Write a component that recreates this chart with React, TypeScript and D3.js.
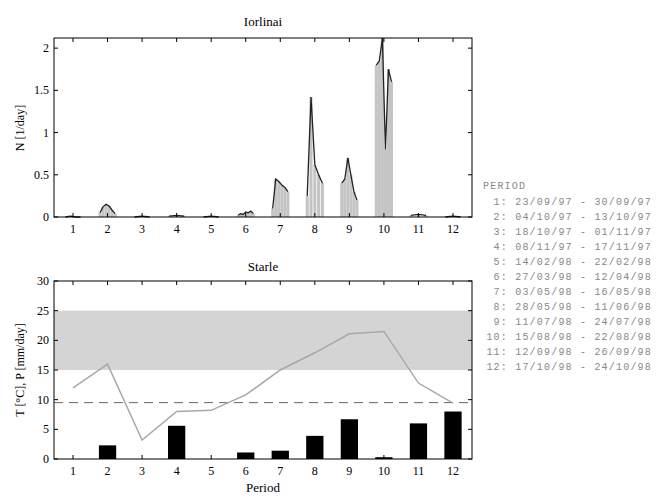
import * as d3 from "d3"

// N [1/day] samples inside each period
const nPeriod1 = [0, 0.01, 0, 0]
const nPeriod2 = [0.05, 0.12, 0.15, 0.13, 0.08, 0.04]
const nPeriod3 = [0, 0.01, 0]
const nPeriod4 = [0.01, 0.02, 0.01]
const nPeriod5 = [0, 0.01, 0]
const nPeriod6 = [0.02, 0.04, 0.03, 0.06, 0.05, 0.07, 0.04]
const nPeriod7 = [0.1, 0.45, 0.42, 0.38, 0.35, 0.3]
const nPeriod8 = [0.25, 1.42, 0.62, 0.5, 0.4]
const nPeriod9 = [0.4, 0.45, 0.7, 0.5, 0.3, 0.2]
const nPeriod10 = [1.8, 1.85, 2.12, 0.8, 1.75, 1.6]
const nPeriod11 = [0.02, 0.03, 0.02]
const nPeriod12 = [0, 0.01, 0]
const nSeries = [nPeriod1, nPeriod2, nPeriod3, nPeriod4, nPeriod5, nPeriod6,
  nPeriod7, nPeriod8, nPeriod9, nPeriod10, nPeriod11, nPeriod12]

const periods = [1, 2, 3, 4, 5, 6, 7, 8, 9, 10, 11, 12]
const temperature = [12.0, 16.0, 3.2, 8.0, 8.2, 10.8, 15.0, 17.9, 21.1, 21.5, 12.8, 9.4]
const precipitation = [0, 2.3, 0, 5.6, 0, 1.1, 1.4, 3.9, 6.7, 0.3, 6.0, 8.0]
const bandLow = 15
const bandHigh = 25
const threshold = 9.5

const topTicks = [0, 0.5, 1, 1.5, 2]
const bottomTicks = [0, 5, 10, 15, 20, 25, 30]

const periodLabels = [
  "1: 23/09/97 - 30/09/97",
  "2: 04/10/97 - 13/10/97",
  "3: 18/10/97 - 01/11/97",
  "4: 08/11/97 - 17/11/97",
  "5: 14/02/98 - 22/02/98",
  "6: 27/03/98 - 12/04/98",
  "7: 03/05/98 - 16/05/98",
  "8: 28/05/98 - 11/06/98",
  "9: 11/07/98 - 24/07/98",
  "10: 15/08/98 - 22/08/98",
  "11: 12/09/98 - 26/09/98",
  "12: 17/10/98 - 24/10/98",
]

const left = 54
const right = 472
const font = "'Liberation Serif', 'Times New Roman', serif"

function Frame({ x, y, ticks, fmt, top, bottom }: any) {
  const tl = 4
  return (
    <g>
      <rect x={left} y={top} width={right - left} height={bottom - top} fill="none" stroke="#000" strokeWidth={1} />
      {periods.map(p => (
        <g key={p}>
          <line x1={x(p)} x2={x(p)} y1={bottom} y2={bottom - tl} stroke="#000" />
          <line x1={x(p)} x2={x(p)} y1={top} y2={top + tl} stroke="#000" />
          <text x={x(p)} y={bottom + 16} textAnchor="middle" fontSize={12} fontFamily={font}>{p}</text>
        </g>
      ))}
      {ticks.map((t: number) => (
        <g key={t}>
          <line x1={left} x2={left + tl} y1={y(t)} y2={y(t)} stroke="#000" />
          <line x1={right} x2={right - tl} y1={y(t)} y2={y(t)} stroke="#000" />
          <text x={left - 5} y={y(t) + 4} textAnchor="end" fontSize={12} fontFamily={font}>{fmt(t)}</text>
        </g>
      ))}
    </g>
  )
}

export default function App() {
  const x = d3.scaleLinear().domain([0.45, 12.55]).range([left, right])

  // top panel
  const topY = d3.scaleLinear().domain([0, 2.12]).range([217, 38])
  const samples = nSeries.map((vals, i) => {
    const p = periods[i]
    const n = vals.length
    const off = d3.scaleLinear().domain([0, n - 1]).range([p - 0.22, p + 0.22])
    return vals.map((v, j) => ({ x: off(j), v }))
  })
  const barW = 0.44 / 5
  const nLine = d3.line<{ x: number; v: number }>().x(d => x(d.x)).y(d => topY(d.v))

  // bottom panel
  const botY = d3.scaleLinear().domain([0, 30]).range([459, 281])
  const tLine = d3.line<number>().x((_, i) => x(periods[i])).y(d => botY(d))
  const bw = x(0.5) - x(0)

  return (
    <svg width={666} height={499} style={{ position: "absolute", left: 0, top: 0, background: "#fff" }}>
      <text x={263} y={26} textAnchor="middle" fontSize={13} fontFamily={font}>Iorlinai</text>
      <g>
        {samples.map((s, i) => (
          <g key={i}>
            {s.map((d, j) => (
              <rect key={j} x={x(d.x - barW / 2)} width={x(barW) - x(0)} y={topY(d.v)}
                height={topY(0) - topY(d.v)} fill="#c4c4c4" />
            ))}
            <path d={nLine(s) || ""} fill="none" stroke="#222" strokeWidth={1.3} />
          </g>
        ))}
      </g>
      <Frame x={x} y={topY} ticks={topTicks} fmt={(t: number) => String(t)} top={38} bottom={217} />
      <text transform={`translate(24,128) rotate(-90)`} textAnchor="middle" fontSize={12} fontFamily={font}>N [1/day]</text>

      <text x={263} y={271} textAnchor="middle" fontSize={13} fontFamily={font}>Starle</text>
      <rect x={left} width={right - left} y={botY(bandHigh)} height={botY(bandLow) - botY(bandHigh)} fill="#d4d4d4" />
      <line x1={left} x2={right} y1={botY(threshold)} y2={botY(threshold)} stroke="#666" strokeDasharray="9,6" />
      <path d={tLine(temperature) || ""} fill="none" stroke="#a8a8a8" strokeWidth={1.5} />
      {precipitation.map((v, i) => (
        <rect key={i} x={x(periods[i]) - bw / 2} width={bw} y={botY(v)} height={botY(0) - botY(v)} fill="#000" />
      ))}
      <Frame x={x} y={botY} ticks={bottomTicks} fmt={(t: number) => String(t)} top={281} bottom={459} />
      <text transform={`translate(24,370) rotate(-90)`} textAnchor="middle" fontSize={12} fontFamily={font}>T [°C], P [mm/day]</text>
      <text x={263} y={492} textAnchor="middle" fontSize={13} fontFamily={font}>Period</text>

      <g fontFamily="'Liberation Mono', 'DejaVu Sans Mono', monospace" fontSize={10} fill="#888" letterSpacing={1.2}>
        <text x={483} y={189}>PERIOD</text>
        {periodLabels.map((l, i) => (
          <text key={i} x={652} y={205 + i * 15} textAnchor="end">{l}</text>
        ))}
      </g>
    </svg>
  )
}
